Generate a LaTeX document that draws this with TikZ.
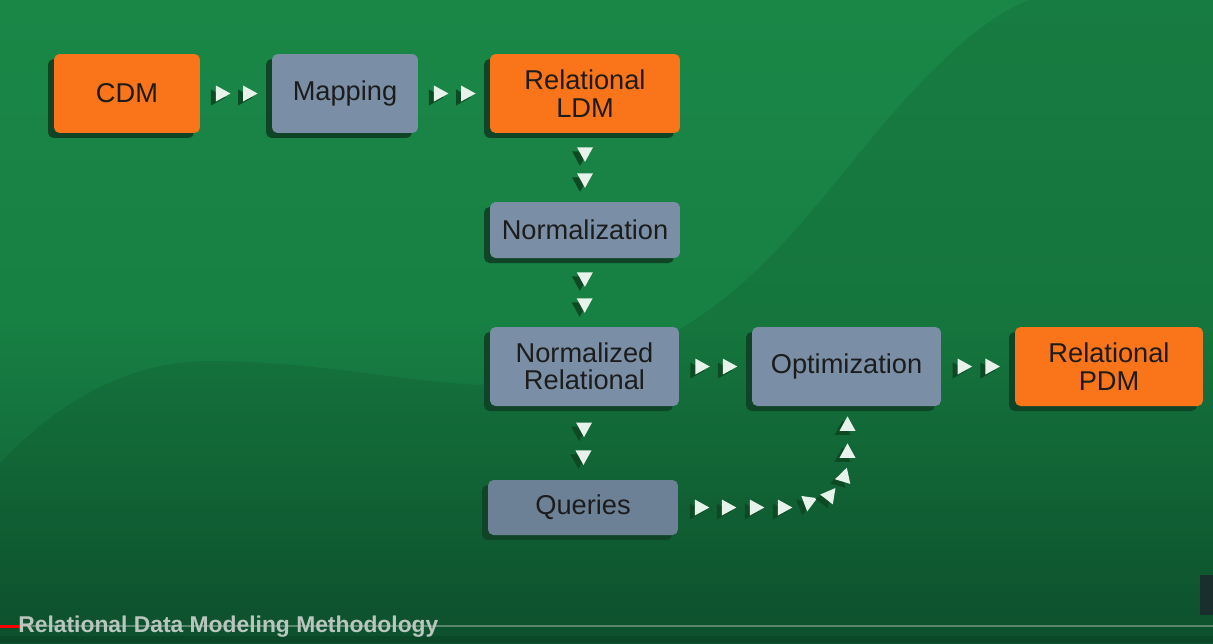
\documentclass[tikz,border=0pt]{standalone}
\usepackage{fontspec}
\setmainfont{Liberation Sans}
\usetikzlibrary{shadows,calc}
\definecolor{bgtop}{HTML}{1A8747}
\definecolor{bgmid}{HTML}{178043}
\definecolor{bgbot}{HTML}{0F5731}
\definecolor{boxor}{HTML}{FA7419}
\definecolor{boxgr}{HTML}{7A8FA6}
\definecolor{boxgrd}{HTML}{6C8096}
\definecolor{shd}{HTML}{0F4526}
\definecolor{txt}{HTML}{1C1C1C}
\definecolor{trifill}{HTML}{E6F2EA}
\definecolor{trishd}{HTML}{0D4A24}
\definecolor{ttl}{HTML}{B9C6BE}
\definecolor{uibox}{HTML}{1B2E2E}
\newcommand\arrowtri[2]{%
  \begin{scope}[shift={(#1)}]
    \fill[trishd,shift={(-5,4)},rotate=#2] (8,0)--(-6.5,8)--(-6.5,-8)--cycle;
    \fill[trifill,rotate=#2] (8,0)--(-6.5,8)--(-6.5,-8)--cycle;
  \end{scope}}
\begin{document}
\begin{tikzpicture}[x=0.02cm,y=-0.02cm,
  box/.style={rounded corners=0.11cm, align=center, inner sep=0pt, text=txt,
    font=\fontsize{15.5}{15.6}\selectfont, minimum height=1.58cm,
    copy shadow={shadow xshift=-0.12cm, shadow yshift=-0.1cm, fill=shd, draw=none}},
  orbox/.style={box, fill=boxor},
  grbox/.style={box, fill=boxgr}]
\useasboundingbox (0,0) rectangle (1213,643);
% background
\shade[top color=bgtop, bottom color=bgbot, middle color=bgmid] (0,0) rectangle (1213,643);
\fill[black, opacity=0.08] (0,463) .. controls (60,400) and (130,361) .. (210,361)
  .. controls (320,361) and (420,385) .. (490,385)
  .. controls (600,385) and (700,330) .. (773,254)
  .. controls (820,205) and (860,150) .. (900,105)
  .. controls (950,50) and (990,15) .. (1029,0)
  -- (1213,0) -- (1213,643) -- (0,643) -- cycle;
% nodes
\node[orbox, minimum width=2.92cm] (cdm) at (127,93.5) {CDM};
\node[grbox, minimum width=2.92cm] (map) at (345,93.5) {Mapping};
\node[orbox, minimum width=3.8cm] (ldm) at (585,93.5) {Relational\\LDM};
\node[grbox, minimum width=3.8cm, minimum height=1.12cm] (norm) at (585,230) {Normalization};
\node[grbox, minimum width=3.78cm] (nrel) at (584.5,366.5) {Normalized\\Relational};
\node[grbox, minimum width=3.78cm] (opt) at (846.5,366.5) {Optimization};
\node[orbox, minimum width=3.76cm] (pdm) at (1109,366.5) {Relational\\PDM};
\node[box, fill=boxgrd, minimum width=3.8cm, minimum height=1.1cm] (qry) at (583,507.5) {Queries};
% connectors made of triangles
\path (cdm.east) -- (map.west) coordinate[pos=0.31] (a1) coordinate[pos=0.69] (a2);
\path (map.east) -- (ldm.west) coordinate[pos=0.31] (b1) coordinate[pos=0.69] (b2);
\path (ldm.south) -- (norm.north) coordinate[pos=0.30] (c1) coordinate[pos=0.68] (c2);
\path (norm.south) -- (nrel.north) coordinate[pos=0.30] (d1) coordinate[pos=0.68] (d2);
\path (nrel.south) -- (qry.north) coordinate[pos=0.31] (e1) coordinate[pos=0.69] (e2);
\path (nrel.east) -- (opt.west) coordinate[pos=0.31] (f1) coordinate[pos=0.69] (f2);
\path (opt.east) -- (pdm.west) coordinate[pos=0.31] (g1) coordinate[pos=0.69] (g2);
\arrowtri{a1}{0}\arrowtri{a2}{0}
\arrowtri{b1}{0}\arrowtri{b2}{0}
\arrowtri{c1}{-90}\arrowtri{c2}{-90}
\arrowtri{d1}{-90}\arrowtri{d2}{-90}
\arrowtri{e1}{-90}\arrowtri{e2}{-90}
\arrowtri{f1}{0}\arrowtri{f2}{0}
\arrowtri{g1}{0}\arrowtri{g2}{0}
% queries -> optimization
\coordinate (h1) at ($(qry.east)+(23,0)$);
\coordinate (h2) at ($(qry.east)+(50,0)$);
\coordinate (h3) at ($(qry.east)+(78,0)$);
\coordinate (h4) at ($(qry.east)+(106,0)$);
\coordinate (h5) at ($(qry.east)+(130,-4)$);
\coordinate (h6) at ($(opt.south)+(-16,88)$);
\coordinate (h7) at ($(opt.south)+(-2,69)$);
\coordinate (h8) at ($(opt.south)+(1,45)$);
\coordinate (h9) at ($(opt.south)+(1,18)$);
\arrowtri{h1}{0}\arrowtri{h2}{0}\arrowtri{h3}{0}\arrowtri{h4}{0}
\arrowtri{h5}{-98}\arrowtri{h6}{52}\arrowtri{h7}{73}\arrowtri{h8}{90}\arrowtri{h9}{90}
% bottom bar
\fill[black, opacity=0.10] (0,636) rectangle (1213,643);
\draw[line width=0.04cm, color=ttl, opacity=0.45] (0,626) -- (1213,626);
\draw[line width=0.06cm, red] (0,626) -- (22,626);
\node[anchor=base west, inner sep=0pt, text=ttl, font=\bfseries\fontsize{13}{13}\selectfont] (title) at (18,632) {Relational Data Modeling Methodology};
\fill[uibox] (1200,575) rectangle (1213,615);
\end{tikzpicture}
\end{document}
